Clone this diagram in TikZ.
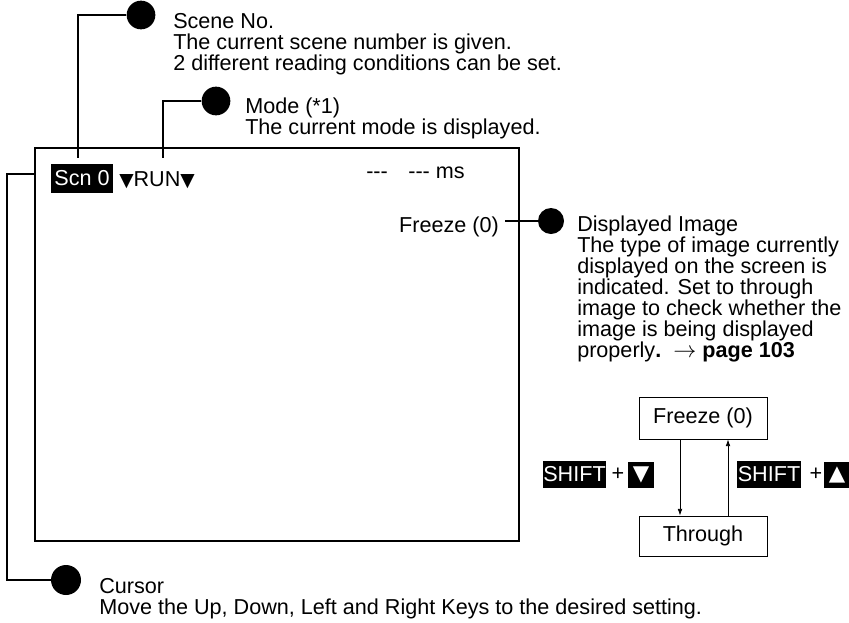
\documentclass[tikz,border=0pt]{standalone}
\usepackage{fontspec}
\setmainfont{Liberation Sans}
\newfontfamily\symfont{DejaVu Sans}
\usetikzlibrary{arrows.meta}

\tikzset{
  leader/.style={line width=1.5pt},
  bullet/.style={circle, fill=black, inner sep=0pt, minimum size=21.5pt},
  note/.style={anchor=base west, align=left, inner sep=0pt},
  label text/.style={inner sep=0pt},
  keycap/.style={fill=black, text=white, inner sep=0pt, minimum height=20pt},
  statebox/.style={draw, line width=0.6pt, minimum width=96pt},
  toggle/.style={line width=0.6pt, -{Latex[length=5pt,width=3.5pt]}},
}

\newcommand{\dnmark}{{\symfont\fontsize{14pt}{14pt}\selectfont ▼}}

\begin{document}
\begin{tikzpicture}[x=0.75pt, y=-0.75pt, font=\fontsize{16.2pt}{15.75pt}\selectfont]
\useasboundingbox (0,0) rectangle (849,622);

% screen
\draw[line width=1.5pt] (35,148) rectangle (519,541);
\node[keycap, minimum width=46.5pt, minimum height=21.5pt] (scn) at (82,178.5) {Scn 0};
\node[label text, anchor=base west] (run) at (119,186) {\dnmark RUN\dnmark};
\node[label text, anchor=base east] (time) at (465,178) {-{}-{}-\hspace{0.95em}-{}-{}- ms};
\node[label text, anchor=base east] (freezelbl) at (499,232) {Freeze (0)};

% scene no.
\node[bullet] (scenedot) at (141,15) {};
\coordinate (scenecorner) at (78,15);
\coordinate (sceneend) at (78,158);
\draw[leader] (scenedot) -- (scenecorner) -- (sceneend);
\node[note] (scenetext) at (173,70) {Scene No.\\The current scene number is given.\\2 different reading conditions can be set.};

% mode
\node[bullet] (modedot) at (216,101) {};
\coordinate (modecorner) at (163,101);
\coordinate (modeend) at (163,158);
\draw[leader] (modedot) -- (modecorner) -- (modeend);
\node[note] (modetext) at (245,134) {Mode (*1)\\The current mode is displayed.};

% displayed image
\node[bullet, minimum size=19.5pt] (imgdot) at (551,221) {};
\coordinate (imgstart) at (505,221);
\draw[leader] (imgstart) -- (imgdot);
\node[note] (imgtext) at (577,357) {Displayed Image\\The type of image currently\\displayed on the screen is\\indicated. Set to through\\image to check whether the\\image is being displayed\\properly\textbf{.}\ \ $\rightarrow$ \textbf{page 103}};

% cursor
\node[bullet, minimum size=22.5pt] (cursordot) at (66,580) {};
\coordinate (cursorend) at (35,174);
\coordinate (cursortop) at (7,174);
\coordinate (cursorbot) at (7,580);
\draw[leader] (cursorend) -- (cursortop) -- (cursorbot) -- (cursordot);
\node[note] (cursortext) at (99,614) {Cursor\\Move the Up, Down, Left and Right Keys to the desired setting.};

% freeze / through
\node[statebox, minimum height=31.5pt] (freeze) at (703,418) {Freeze (0)};
\node[statebox, minimum height=30pt] (through) at (703,536) {Through};
\draw[toggle] ([xshift=-17.25pt]freeze.south) -- ([xshift=-17.25pt]through.north);
\draw[toggle] ([xshift=18.75pt]through.north) -- ([xshift=18.75pt]freeze.south);

\node[keycap, minimum width=47pt] (shiftdn) at (574.5,474.5) {SHIFT};
\node[label text] (plusdn) at (618,474.5) {+};
\node[keycap, minimum width=19.5pt, minimum height=19.5pt] (keydn) at (641,475) {\symfont\fontsize{16pt}{16pt}\selectfont ▼};
\node[keycap, minimum width=48pt] (shiftup) at (769,474.5) {SHIFT};
\node[label text] (plusup) at (816,474.5) {+};
\node[keycap, minimum width=19.5pt, minimum height=19.5pt] (keyup) at (837,475) {\symfont\fontsize{16pt}{16pt}\selectfont ▲};
\end{tikzpicture}
\end{document}
